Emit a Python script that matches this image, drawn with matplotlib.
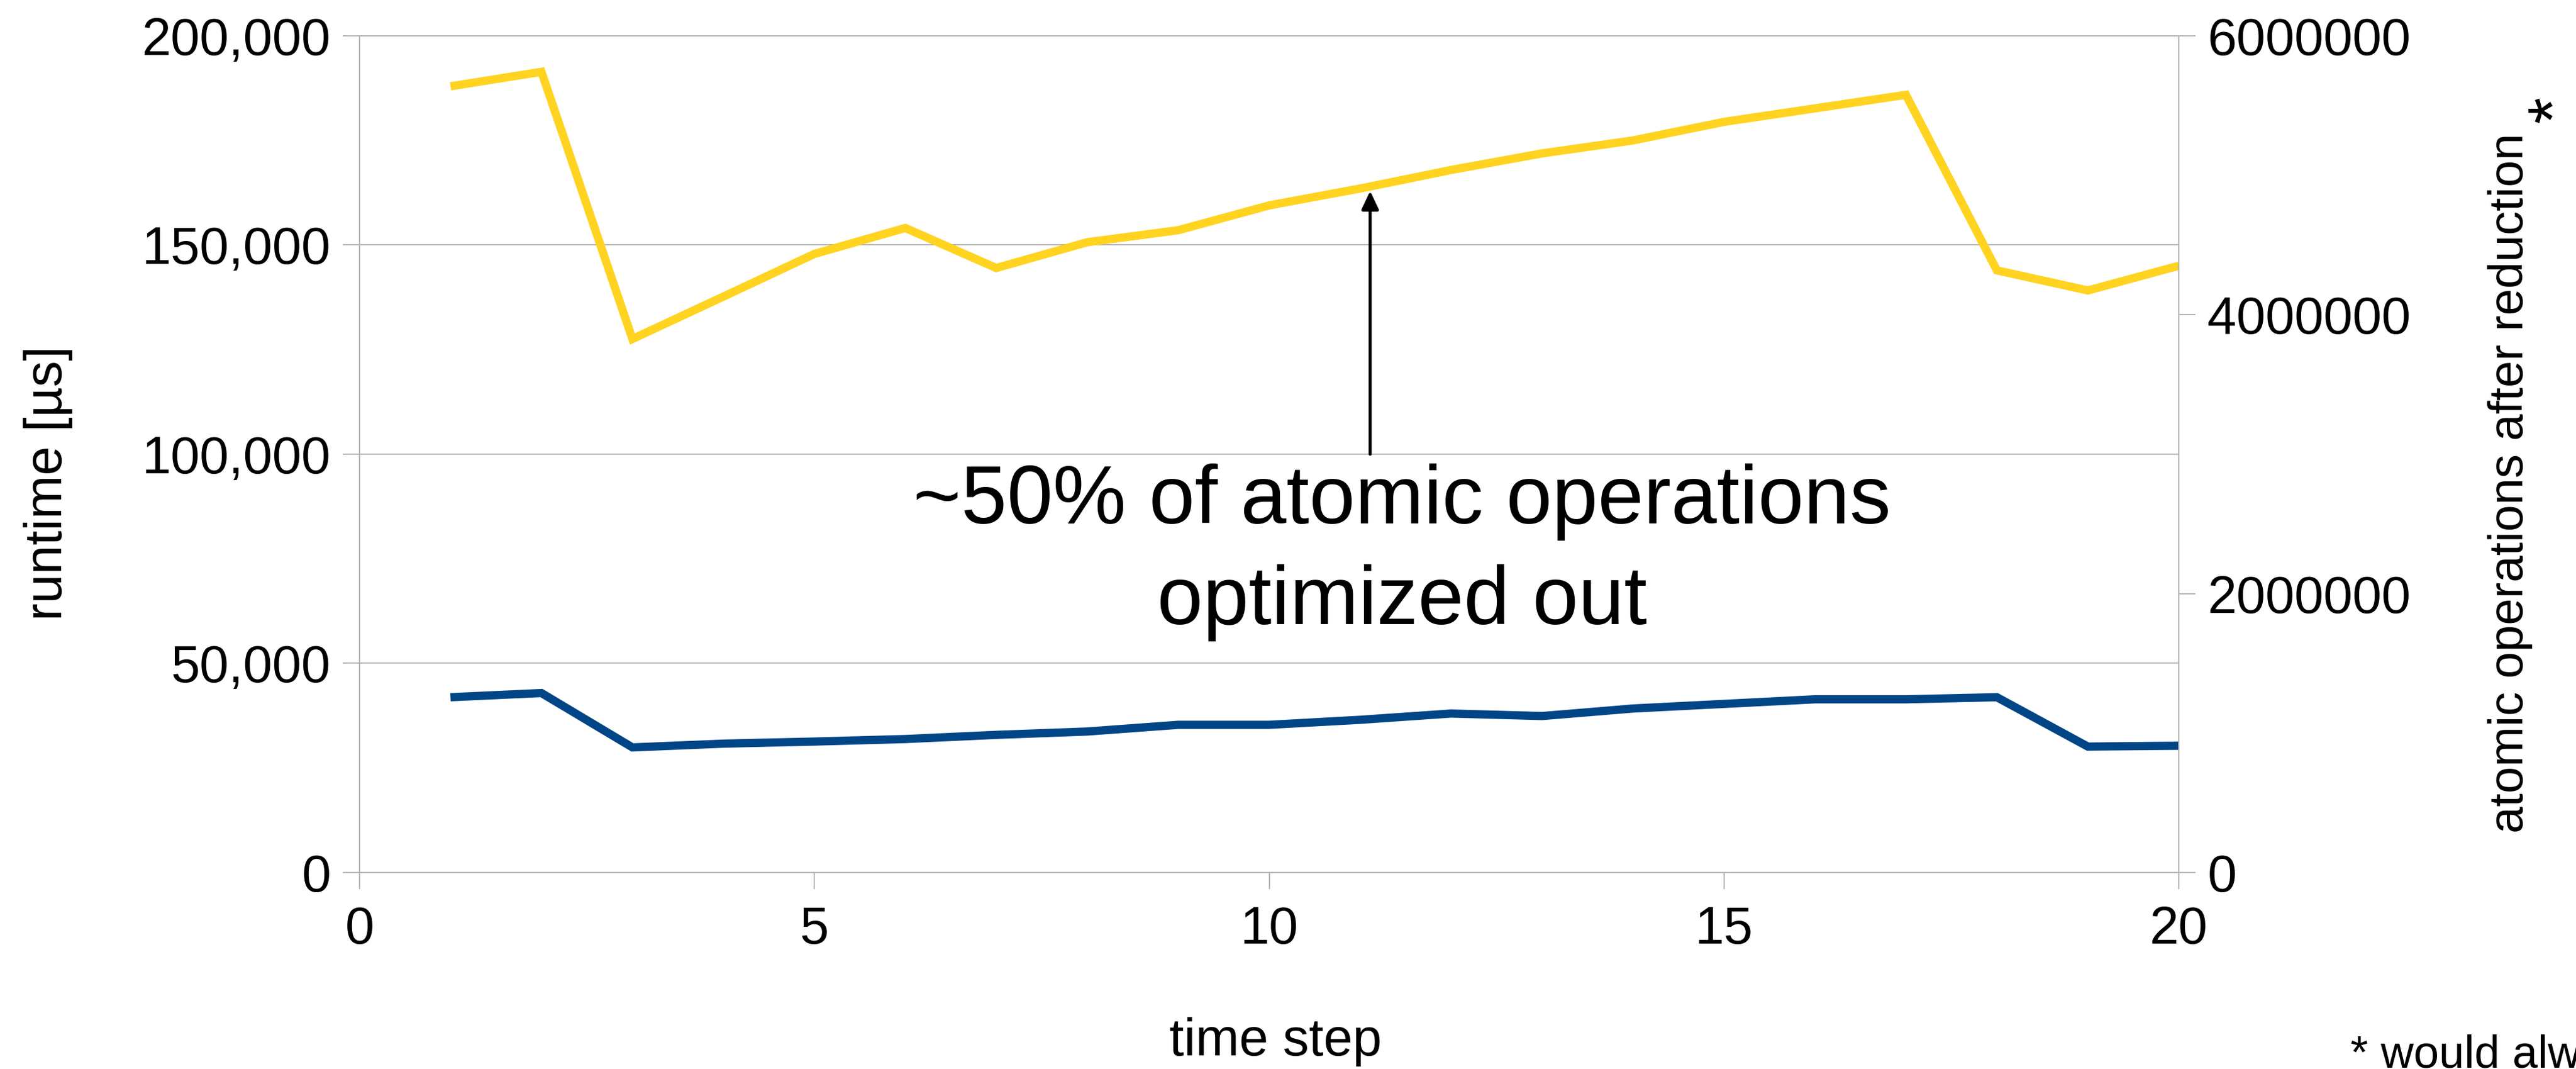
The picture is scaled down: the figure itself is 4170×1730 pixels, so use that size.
import matplotlib.pyplot as plt
from matplotlib.ticker import FuncFormatter

plt.rcParams['font.family'] = ['Liberation Sans', 'DejaVu Sans']

# time steps and the two measured series
steps = list(range(1, 21))
runtime_us = [41900, 42900, 29900, 30800, 31300, 31900, 32900, 33700, 35300, 35300,
              36500, 38000, 37400, 39200, 40300, 41400, 41400, 41900, 30100, 30300]
atomic_ops = [5638000, 5742000, 3826000, 4130000, 4436000, 4622000, 4335000, 4520000,
              4606000, 4784000, 4905000, 5038000, 5157000, 5250000, 5383000, 5480000,
              5577000, 4318000, 4174000, 4351000]

left_ticks = [0, 50000, 100000, 150000, 200000]
right_ticks = [0, 2000000, 4000000, 6000000]
x_ticks = [0, 5, 10, 15, 20]

arrow_x = 11.11
arrow_from = 3000000
arrow_to = 4887000

grid_col = '#b3b3b3'
fs = 61

fig = plt.figure(figsize=(41.7, 17.3), dpi=100)
ax = fig.add_axes([0.13957, 0.18382, 0.70624, 0.78266])
ax2 = ax.twinx()

ax.plot(steps, runtime_us, color='#004586', lw=9.6,
        solid_joinstyle='miter', solid_capstyle='butt')
ax2.plot(steps, atomic_ops, color='#ffd320', lw=9.6,
         solid_joinstyle='miter', solid_capstyle='butt')

ax.set_xlim(0, 20)
ax.set_ylim(0, 200000)
ax2.set_ylim(0, 6000000)
ax.set_xticks(x_ticks)
ax.set_yticks(left_ticks)
ax2.set_yticks(right_ticks)
ax.yaxis.set_major_formatter(FuncFormatter(lambda v, p: f"{v:,.0f}"))
ax2.yaxis.set_major_formatter(FuncFormatter(lambda v, p: f"{int(v)}"))

ax.grid(axis='y', color=grid_col, lw=1.4)
ax.set_axisbelow(True)
for a in (ax, ax2):
    for s in a.spines.values():
        s.set_color(grid_col)
        s.set_linewidth(1.4)
ax.tick_params(axis='both', direction='out', length=19.4, width=1.4,
               color=grid_col, labelsize=fs, pad=14)
ax.tick_params(axis='x', pad=19)
ax2.tick_params(axis='y', direction='out', length=19.4, width=1.4,
                color=grid_col, labelsize=fs, pad=14)

# arrow pointing at the reduced atomic operation count
ax2.annotate('', xy=(arrow_x, arrow_to), xytext=(arrow_x, arrow_from),
             arrowprops=dict(arrowstyle='-|>,head_length=1.8,head_width=0.85',
                             color='black', lw=3.6, shrinkA=0, shrinkB=0))
ax2.text(11.46, 2503000, '~50% of atomic operations', fontsize=96,
         ha='center', va='baseline')
ax2.text(11.46, 1783000, 'optimized out', fontsize=96,
         ha='center', va='baseline')

fig.text(78 / 4170, 1 - 782 / 1730, 'runtime [µs]', rotation=90,
         ha='center', va='center', fontsize=fs)
fig.text(4064 / 4170, 1 - 782 / 1730, 'atomic operations after reduction',
         rotation=90, ha='center', va='center', fontsize=56)
fig.text(4140 / 4170, 1 - 177 / 1730, '*', rotation=90,
         ha='center', va='center', fontsize=80)
fig.text(2065 / 4170, 1 - 1708 / 1730, 'time step', ha='center',
         va='baseline', fontsize=fs)
fig.text(3805 / 4170, 1 - 1728 / 1730, '* would always', ha='left',
         va='baseline', fontsize=53)

fig.savefig('out.png', dpi=100)
